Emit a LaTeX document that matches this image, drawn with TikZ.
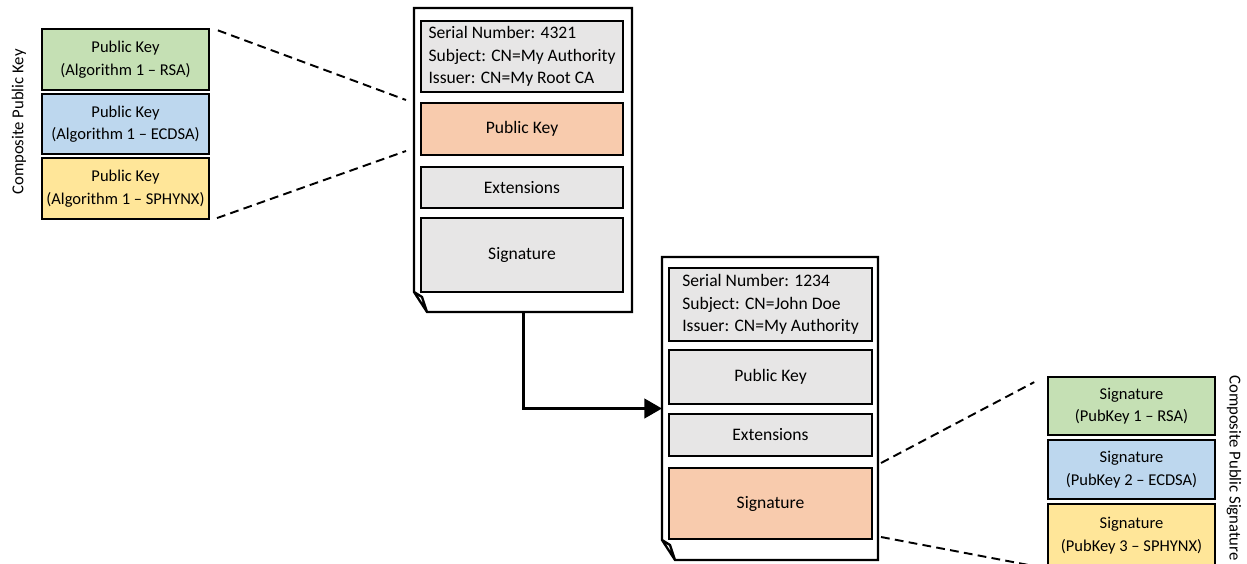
\documentclass[tikz,border=0pt]{standalone}
\usepackage{fontspec}
\setmainfont{Carlito}
\usetikzlibrary{arrows.meta,calc}
\definecolor{fieldgray}{HTML}{E7E6E6}
\definecolor{keyorange}{HTML}{F8CBAD}
\definecolor{rsagreen}{HTML}{C5E0B4}
\definecolor{ecblue}{HTML}{BDD7EE}
\definecolor{sphyellow}{HTML}{FFE699}
\newdimen\pxu \pxu=0.02cm
\tikzset{>={Triangle[length=10pt,width=11pt]}}
\tikzset{
  sized/.style 2 args={minimum width=#1\pxu, minimum height=#2\pxu},
  field/.style={draw, line width=0.6pt, fill=fieldgray, inner sep=0pt, align=left},
  keypart/.style={draw, line width=1.6pt, inner sep=0pt, align=center,
    font=\fontsize{9.4}{12.8}\selectfont},
  certbox/.style={inner sep=0pt, outer sep=0pt},
  page/.style={line width=1.3pt, line join=miter},
  link/.style={line width=1.1pt, dash pattern=on 5pt off 3pt},
  flow/.style={line width=1.7pt, ->},
}
\newcommand*{\certpage}[1]
  {\draw[page] (#1.north west) -- (#1.north east) -- (#1.south east)
     -- ([xshift=13\pxu]#1.south west) -- ([yshift=20\pxu]#1.south west) -- cycle
     ([yshift=20\pxu]#1.south west) -- ([xshift=8\pxu,yshift=15\pxu]#1.south west)
     -- ([xshift=13\pxu]#1.south west)}

\begin{document}
\begin{tikzpicture}[x=0.02cm, y=-0.02cm, font=\fontsize{10}{12.8}\selectfont]
\useasboundingbox (0,0) rectangle (1247,564);
% issuing certificate
\node[certbox, sized={218}{304}] (certA) at (523,160) {};
\certpage{certA};
\node[field, sized={202}{71}] (hdrA) at (522,56.5)
  {Serial Number: 4321\\Subject: CN=My Authority\\Issuer: CN=My Root CA};
\node[field, sized={202}{52}, fill=keyorange] (keyA) at (522,129) {Public Key};
\node[field, sized={202}{41}] (extA) at (522,187.5) {Extensions};
\node[field, sized={202}{74}] (sigA) at (522,255) {Signature};
% end entity certificate
\node[certbox, sized={216}{303}] (certB) at (770,408.5) {};
\certpage{certB};
\node[field, sized={203}{73}] (hdrB) at (770.5,304.5)
  {Serial Number: 1234\\Subject: CN=John Doe\\Issuer: CN=My Authority};
\node[field, sized={203}{54}] (keyB) at (770.5,377) {Public Key};
\node[field, sized={203}{42}] (extB) at (770.5,435) {Extensions};
\node[field, sized={203}{71}, fill=keyorange] (sigB) at (770.5,503.5) {Signature};
% composite public key
\node[keypart, sized={167}{61}, fill=rsagreen] (pkRSA) at (125.5,59.5)
  {Public Key\\(Algorithm 1 – RSA)};
\node[keypart, sized={167}{60}, fill=ecblue] (pkECDSA) at (125.5,124)
  {Public Key\\(Algorithm 1 – ECDSA)};
\node[keypart, sized={167}{61}, fill=sphyellow] (pkSPHYNX) at (125.5,188.5)
  {Public Key\\(Algorithm 1 – SPHYNX)};
\node[rotate=90, font=\fontsize{9.5}{11}\selectfont] (cpkLabel) at (19,122)
  {Composite Public Key};
% composite signature
\node[keypart, sized={167}{58}, fill=rsagreen] (sgRSA) at (1131.5,406)
  {Signature\\(PubKey 1 – RSA)};
\node[keypart, sized={167}{59}, fill=ecblue] (sgECDSA) at (1131.5,469.5)
  {Signature\\(PubKey 2 – ECDSA)};
\node[keypart, sized={167}{63}, fill=sphyellow] (sgSPHYNX) at (1131.5,535.5)
  {Signature\\(PubKey 3 – SPHYNX)};
\node[rotate=-90, font=\fontsize{9.5}{11}\selectfont] (cpsLabel) at (1234,468)
  {Composite Public Signature};
% connectors
\coordinate (keyInTop) at (406,100);
\coordinate (keyInBot) at (406,151);
\coordinate (sigOutTop) at (881,463);
\coordinate (sigOutBot) at (881,537);
\draw[link, shorten <=8\pxu] (pkRSA.north east) -- (keyInTop);
\draw[link, shorten <=7\pxu] (pkSPHYNX.south east) -- (keyInBot);
\draw[link, shorten >=14\pxu] (sigOutTop) -- (sgRSA.north west);
\draw[link, shorten >=14\pxu] (sigOutBot) -- (sgSPHYNX.south west);
\draw[flow] ($(certA.south west)+(109,0)$) |- (certB.west);
\end{tikzpicture}
\end{document}
